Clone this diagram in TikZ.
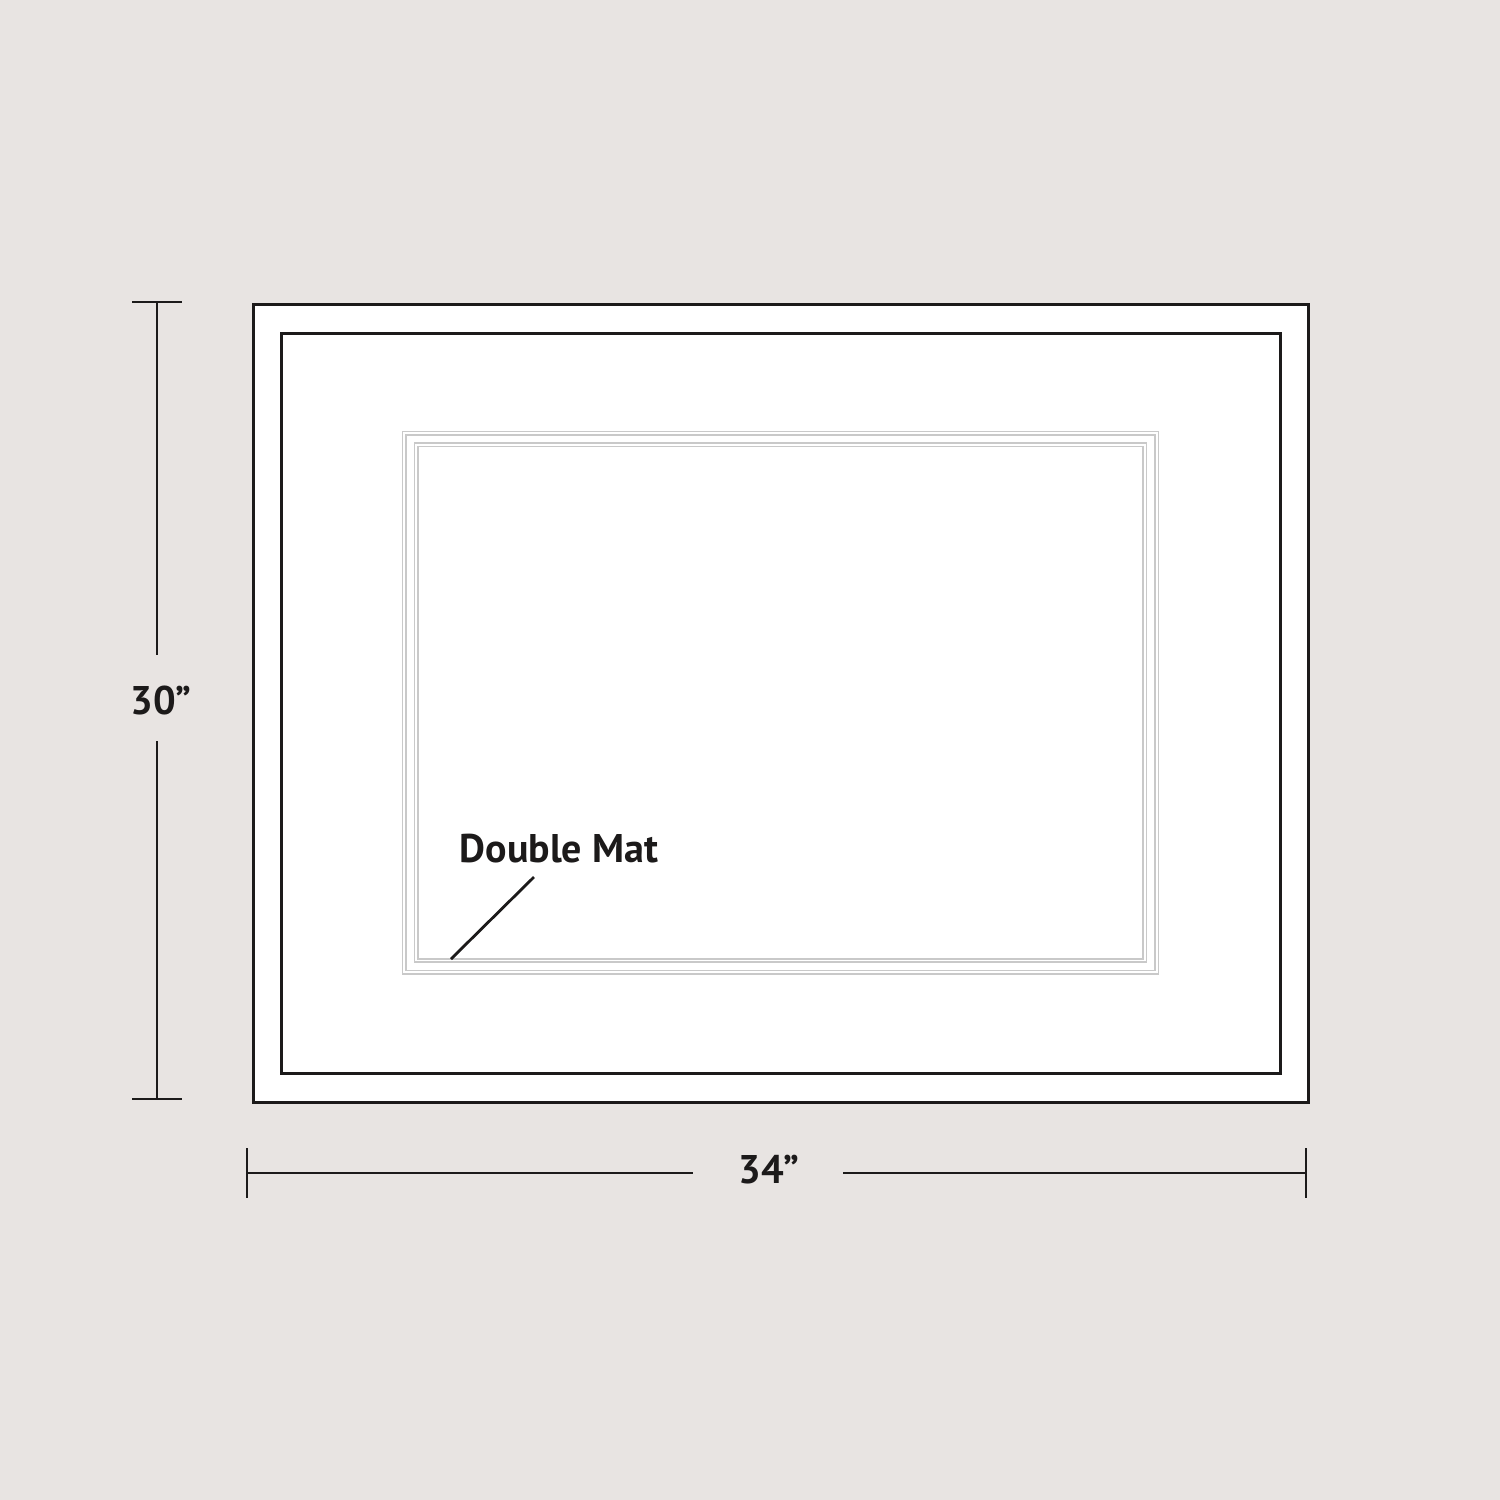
\documentclass[tikz,border=0pt]{standalone}
\usepackage{fontspec}
\setmainfont{PT Sans}
\definecolor{bg}{HTML}{E8E4E2}
\definecolor{ink}{HTML}{1C1A1A}
\definecolor{matline}{HTML}{C9C9C9}
\begin{document}
\begin{tikzpicture}[x=0.5pt,y=-0.5pt,
  frameline/.style={draw=ink,line width=1.5pt},
  dimline/.style={draw=ink,line width=1.4pt},
  matstroke/.style={draw=matline,line width=0.75pt},
  lbl/.style={text=ink,font=\fontsize{20}{24}\selectfont\bfseries,inner sep=0pt}]
\fill[bg] (0,0) rectangle (1500,1500);
\useasboundingbox (0,0) rectangle (1500,1500);
% frame
\path[frameline,fill=white] (253,304) rectangle (1308,1102);
\path[frameline] (281,333) rectangle (1280,1073);
% double mat
\path[matstroke] (402.5,431.5) rectangle (1158.5,974);
\path[matstroke] (406,435) rectangle (1155,970.5);
\path[matstroke] (414.5,443) rectangle (1146.5,962);
\path[matstroke] (418,446.5) rectangle (1143,959);
% vertical dimension
\coordinate (vt) at (157,302);
\coordinate (vb) at (157,1099);
\node[lbl] (h) at (161,700) {30”};
\draw[dimline] (132,302) -- (182,302);
\draw[dimline] (132,1099) -- (182,1099);
\draw[dimline] (vt) -- (157,655);
\draw[dimline] (157,741) -- (vb);
% horizontal dimension
\coordinate (hl) at (247,1173);
\coordinate (hr) at (1306,1173);
\node[lbl] (w) at (769,1170) {34”};
\draw[dimline] (247,1148) -- (247,1198);
\draw[dimline] (1306,1148) -- (1306,1198);
\draw[dimline] (hl) -- (693,1173);
\draw[dimline] (843,1173) -- (hr);
% label
\node[lbl] (dm) at (559,849) {Double Mat};
\coordinate (a1) at (534,877);
\coordinate (a2) at (451,959);
\draw[dimline] (a1) -- (a2);
\end{tikzpicture}
\end{document}
